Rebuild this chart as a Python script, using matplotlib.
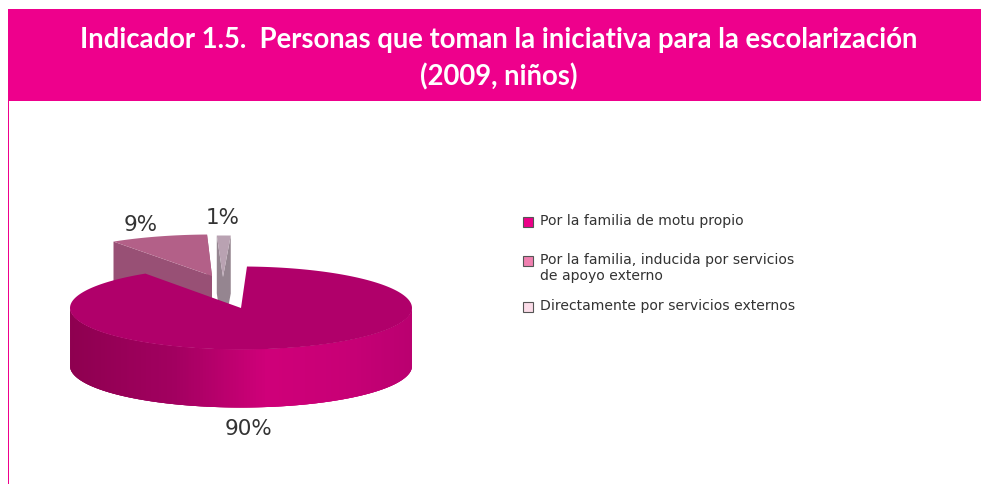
#!/usr/bin/env python3
"""
Exploded 3D style pie chart, indicator 1.5
"""

import numpy as np
import matplotlib
matplotlib.use('Agg')
import matplotlib.pyplot as plt
from matplotlib.colors import LinearSegmentedColormap
from matplotlib.patches import Polygon, Rectangle

TITLE_LINES = ['Indicador 1.5.  Personas que toman la iniciativa para la escolarización',
               '(2009, niños)']
SHARES = [90, 9, 1]
SHARE_LABELS = ['90%', '9%', '1%']
LEGEND_LABELS = ['Por la familia de motu propio',
                 'Por la familia, inducida por servicios\nde apoyo externo',
                 'Directamente por servicios externos']

PINK = '#EE008C'
TOP_COLORS = ['#B0006A', '#B36088', '#B9A2B2']
WALL_COLORS = [None, '#985075', '#958590']
LEGEND_COLORS = ['#EC0088', '#F080B0', '#FBDCE8']
LEGEND_Y = [222.5, 261.5, 307]
LEGEND_TEXT_Y = [221, 268, 306]

# apex of each slice in pixels, slices are pulled away from the pie
CENTERS = [(241, 309), (212, 277), (223, 278)]
RX, RY = 171, 41.5
RX_SCALES = [1, 1.03, 1.3]
DEPTH = 58
START_ANGLE = 88

wall_cmap = LinearSegmentedColormap.from_list(
    'wall', [(0, '#8E0050'), (0.3, '#A20060'), (0.57, '#CF0079'), (0.8, '#C80076'), (1, '#BA0070')])


def rim(center, angles, scale=1):
    """
    Points of the top ellipse for angles in degrees
    """
    rad = np.radians(angles)
    return np.column_stack((center[0] + scale * RX * np.cos(rad), center[1] - RY * np.sin(rad)))


def draw_slice(axis, center, theta1, theta2, top, wall, scale=1):
    """
    Draws the two cut faces and the top of one slice
    """
    if wall:
        for angle in (theta1, theta2):
            edge = rim(center, [angle], scale)[0]
            axis.add_patch(Polygon([center, edge, (edge[0], edge[1] + DEPTH),
                                    (center[0], center[1] + DEPTH)], color=wall, lw=0))
    arc = rim(center, np.linspace(theta1, theta2, 200), scale)
    axis.add_patch(Polygon(np.vstack(([center], arc)), color=top, lw=0))


def draw_front_wall(axis, center):
    """
    Draws the outer wall of the big slice as thin shaded strips
    """
    angles = np.linspace(180, 360, 181)
    pts = rim(center, angles)
    for i in range(len(pts) - 1):
        frac = (pts[i, 0] - pts[0, 0]) / (pts[-1, 0] - pts[0, 0])
        # strips overlap the next one so no seams show
        end = pts[min(i + 3, len(pts) - 1)]
        axis.add_patch(Polygon([pts[i], end, end + (0, DEPTH), pts[i] + (0, DEPTH)],
                               facecolor=wall_cmap(frac), lw=0))


def main():
    """
    Builds the figure and saves it
    """
    fig = plt.figure(figsize=(9.81, 4.85), dpi=100)
    axis = fig.add_axes([0, 0, 1, 1])
    axis.set_xlim(0, 981)
    axis.set_ylim(485, 0)
    axis.axis('off')

    # header band and left rule
    axis.add_patch(Rectangle((8, 9.5), 973, 92, color=PINK, lw=0))
    axis.add_patch(Rectangle((8, 101), 1.3, 384, color=PINK, lw=0))
    for line, y_pos in zip(TITLE_LINES, [40, 77]):
        axis.text(499, y_pos, line, color='white', fontsize=19.85, fontweight='bold',
                  family='Lato', ha='center', va='center')

    # slices run clockwise from the start angle, the 1% and 9% are drawn behind
    sweeps = [share * 3.6 for share in SHARES]
    first_end = START_ANGLE - sweeps[0] + 360
    second_end = first_end - sweeps[1]
    draw_slice(axis, CENTERS[1], second_end, first_end, TOP_COLORS[1], WALL_COLORS[1], RX_SCALES[1])
    draw_slice(axis, CENTERS[2], START_ANGLE, second_end, TOP_COLORS[2], WALL_COLORS[2], RX_SCALES[2])
    draw_front_wall(axis, CENTERS[0])
    draw_slice(axis, CENTERS[0], START_ANGLE - sweeps[0], START_ANGLE,
               TOP_COLORS[0], WALL_COLORS[0])

    for label, x_pos, y_pos in zip(SHARE_LABELS, [249, 141, 223], [429, 225, 218]):
        axis.text(x_pos, y_pos, label, color='#333333', fontsize=15.5, family='DejaVu Sans',
                  ha='center', va='center')

    for i, label in enumerate(LEGEND_LABELS):
        axis.add_patch(Rectangle((523, LEGEND_Y[i] - 4.5), 10, 10, facecolor=LEGEND_COLORS[i],
                                 edgecolor='#555555', lw=0.8))
        axis.text(540, LEGEND_TEXT_Y[i], label, color='#333333', fontsize=10.1, family='DejaVu Sans',
                  ha='left', va='center', linespacing=1.15)

    fig.savefig('out.png', dpi=100)


if __name__ == '__main__':
    main()
